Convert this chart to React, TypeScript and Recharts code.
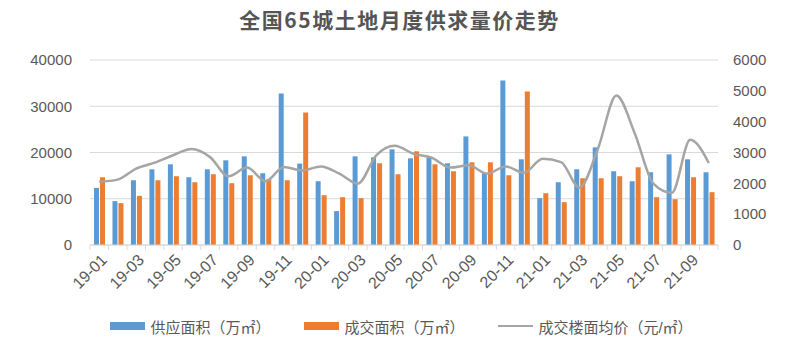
import React from "react"
import {
  ComposedChart,
  Bar,
  Line,
  XAxis,
  YAxis,
  CartesianGrid,
  Legend,
} from "recharts"

const months = [
  "19-01", "19-02", "19-03", "19-04", "19-05", "19-06", "19-07", "19-08", "19-09", "19-10", "19-11", "19-12",
  "20-01", "20-02", "20-03", "20-04", "20-05", "20-06", "20-07", "20-08", "20-09", "20-10", "20-11", "20-12",
  "21-01", "21-02", "21-03", "21-04", "21-05", "21-06", "21-07", "21-08", "21-09", "21-10",
]

// 供应面积（万㎡）
const supply = [
  12350, 9480, 14000, 16370, 17450, 14650, 16370, 18310, 19170, 15510, 32750, 17600,
  13790, 7330, 19170, 18960, 20680, 18740, 18960, 17670, 23480, 15510, 35550, 18530,
  10130, 13570, 16370, 21110, 15940, 13790, 15730, 19600, 18530, 15730,
]

// 成交面积（万㎡）
const deal = [
  14650, 9050, 10630, 14000, 14870, 13570, 15300, 13360, 15080, 14220, 14000, 28650,
  10770, 10340, 10130, 17670, 15300, 20250, 17450, 15940, 17880, 17880, 15080, 33180,
  11200, 9260, 14430, 14430, 14870, 16800, 10340, 9910, 14650, 11420,
]

// 成交楼面均价（元/㎡）
const price = [
  2050, 2120, 2480, 2670, 2910, 3110, 2850, 2230, 2510, 2070, 2530, 2420,
  2550, 2315, 1990, 2910, 3220, 2960, 2830, 2510, 2585, 2315, 2550, 2340,
  2800, 2690, 1860, 3120, 4850, 3610, 1990, 1690, 3410, 2660,
]

const leftTicks = [0, 10000, 20000, 30000, 40000]
const rightTicks = [0, 1000, 2000, 3000, 4000, 5000, 6000]

const data = months.map((m, i) => ({
  month: m,
  supply: supply[i],
  deal: deal[i],
  price: price[i],
}))

const FONT = "'Liberation Sans', Arial, 'Noto Sans CJK SC', sans-serif"
const TEXT = "#595959"

const MonthTick = (props: any) => {
  const { x, y, payload, index, width } = props
  const band = (width || 628) / months.length
  return (
    <g>
      <line x1={x - band / 2} y1={y - 8} x2={x - band / 2} y2={y - 3} stroke="#d9d9d9" />
      {index === months.length - 1 && (
        <line x1={x + band / 2} y1={y - 8} x2={x + band / 2} y2={y - 3} stroke="#d9d9d9" />
      )}
      {index % 2 === 0 && (
        <text
          x={x + 5}
          y={y + 4}
          transform={`rotate(-45, ${x + 5}, ${y + 4})`}
          textAnchor="end"
          dominantBaseline="central"
          fill={TEXT}
          fontSize={16}
          fontFamily={FONT}
        >
          {payload.value}
        </text>
      )}
    </g>
  )
}

const LegendBox = () => (
  <div
    style={{
      display: "flex",
      justifyContent: "center",
      alignItems: "center",
      paddingLeft: 6,
      height: 20,
      fontFamily: FONT,
      fontSize: 15,
      color: TEXT,
    }}
  >
    <div style={{ display: "flex", alignItems: "center", marginRight: 34 }}>
      <span style={{ width: 35, height: 8, background: "#5B9BD5", marginRight: 5 }} />
      <span>供应面积（万㎡）</span>
    </div>
    <div style={{ display: "flex", alignItems: "center", marginRight: 34 }}>
      <span style={{ width: 35, height: 8, background: "#ED7D31", marginRight: 5 }} />
      <span>成交面积（万㎡）</span>
    </div>
    <div style={{ display: "flex", alignItems: "center" }}>
      <span style={{ width: 35, height: 2.5, background: "#A5A5A5", marginRight: 5 }} />
      <span>成交楼面均价（元/㎡）</span>
    </div>
  </div>
)

export default function App() {
  return (
    <div style={{ position: "absolute", left: 0, top: 0, width: 785, height: 353, background: "#fff" }}>
      <div
        style={{
          position: "absolute",
          top: 7,
          left: 0,
          width: 785,
          paddingLeft: 14,
          boxSizing: "border-box",
          textAlign: "center",
          fontFamily: "'Noto Sans CJK SC', sans-serif",
          fontWeight: "bold",
          fontSize: 21,
          lineHeight: "24px",
          letterSpacing: 1.5,
          color: "#555",
        }}
      >
        全国65城土地月度供求量价走势
      </div>
      <ComposedChart
        width={785}
        height={353}
        data={data}
        margin={{ top: 60, right: 0, left: 12, bottom: 17 }}
        barSize={5}
        barGap={1}
      >
        <CartesianGrid vertical={false} stroke="#d9d9d9" yAxisId="left" />
        <XAxis
          dataKey="month"
          interval={0}
          height={71}
          tick={<MonthTick />}
          tickLine={false}
          axisLine={{ stroke: "#d9d9d9" }}
        />
        <YAxis
          yAxisId="left"
          domain={[0, 40000]}
          ticks={leftTicks}
          width={78}
          axisLine={false}
          tickLine={false}
          tickMargin={12}
          tick={{ fill: TEXT, fontSize: 15, fontFamily: FONT }}
        />
        <YAxis
          yAxisId="right"
          orientation="right"
          domain={[0, 6000]}
          ticks={rightTicks}
          width={67}
          axisLine={false}
          tickLine={false}
          tickMargin={9}
          tick={{ fill: TEXT, fontSize: 15, fontFamily: FONT, textAnchor: "start" }}
        />
        <Legend verticalAlign="bottom" height={20} content={<LegendBox />} />
        <Bar yAxisId="left" dataKey="supply" name="供应面积（万㎡）" fill="#5B9BD5" isAnimationActive={false} />
        <Bar yAxisId="left" dataKey="deal" name="成交面积（万㎡）" fill="#ED7D31" isAnimationActive={false} />
        <Line
          yAxisId="right"
          type="monotone"
          dataKey="price"
          name="成交楼面均价（元/㎡）"
          stroke="#A5A5A5"
          strokeWidth={2.5}
          dot={false}
          isAnimationActive={false}
        />
      </ComposedChart>
    </div>
  )
}
